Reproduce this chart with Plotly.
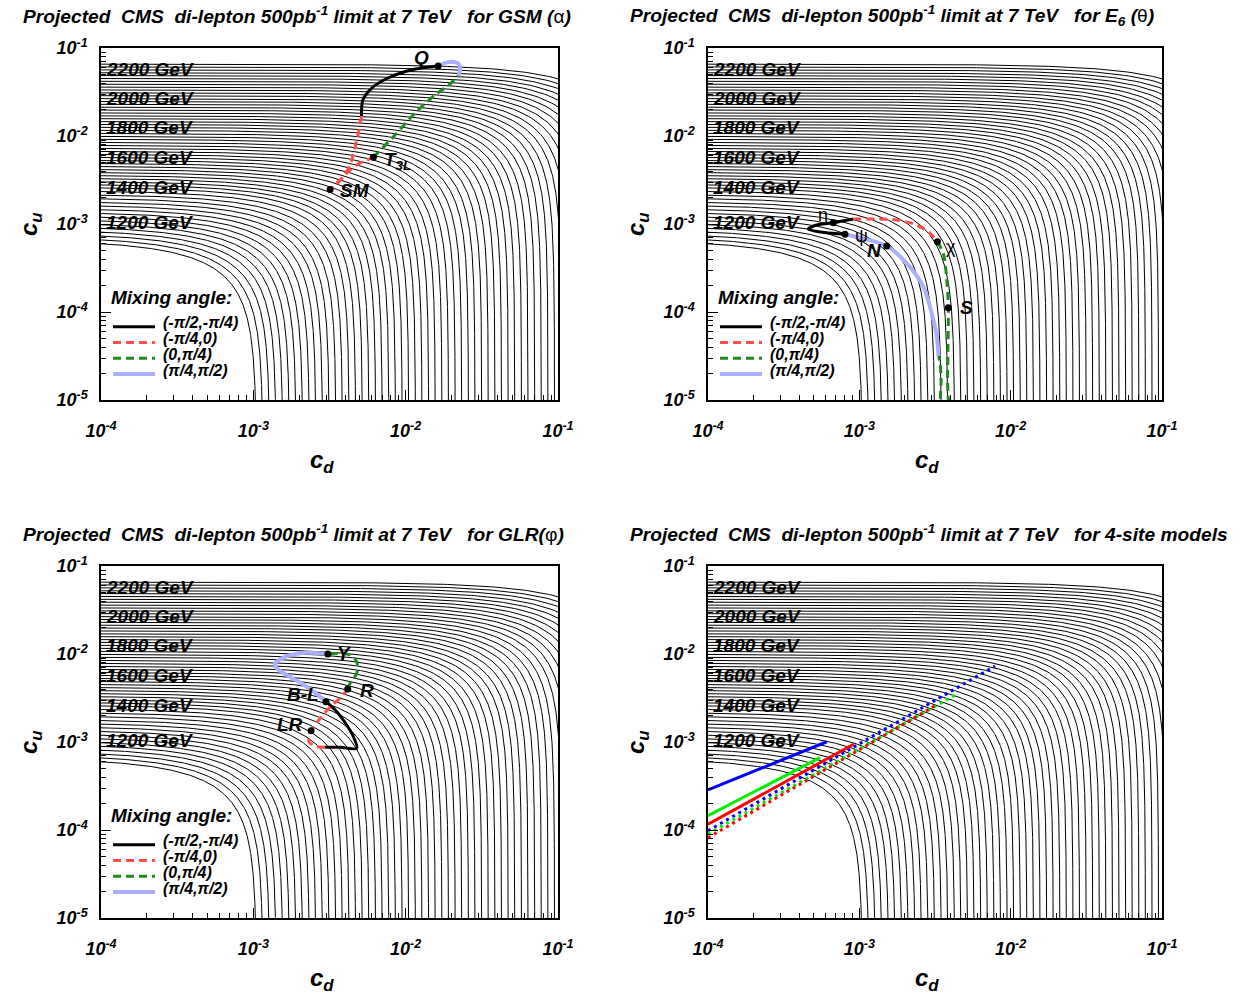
import numpy as np
import plotly.graph_objects as go

W, H = 1241, 994

# ---------------- data ----------------
# mass-limit contours (one line every 20 GeV); intercepts on the c_u axis and the c_d axis (log10)
limit_mass = list(range(1100, 2241, 20))
contour_cu_intercept_log = [
    -3.180, -3.140, -3.100, -3.060, -3.020, -2.980, -2.940, -2.900, -2.860, -2.820,
    -2.780, -2.740, -2.700, -2.660, -2.620, -2.580, -2.546, -2.512, -2.478, -2.444,
    -2.410, -2.376, -2.342, -2.308, -2.274, -2.240, -2.206, -2.172, -2.138, -2.104,
    -2.070, -2.036, -2.002, -1.968, -1.934, -1.900, -1.867, -1.835, -1.802, -1.770,
    -1.737, -1.704, -1.672, -1.639, -1.607, -1.574, -1.541, -1.509, -1.476, -1.444,
    -1.411, -1.378, -1.346, -1.313, -1.281, -1.248, -1.215, -1.183]
contour_cd_intercept_log = [
    -2.980, -2.937, -2.893, -2.850, -2.806, -2.763, -2.719, -2.676, -2.632, -2.589,
    -2.545, -2.502, -2.458, -2.415, -2.371, -2.328, -2.284, -2.241, -2.197, -2.154,
    -2.110, -2.067, -2.023, -1.980, -1.936, -1.893, -1.849, -1.806, -1.762, -1.719,
    -1.675, -1.632, -1.588, -1.545, -1.501, -1.458, -1.414, -1.371, -1.327, -1.284,
    -1.240, -1.197, -1.153, -1.110, -1.066, -1.023, -0.979, -0.936, -0.892, -0.849,
    -0.805, -0.762, -0.718, -0.675, -0.631, -0.588, -0.544, -0.501]
mass_labels = [1200, 1400, 1600, 1800, 2000, 2200]

x_tick_exp = [-4, -3, -2, -1]
y_tick_exp = [-5, -4, -3, -2, -1]

legend_labels = ["(-\u03c0/2,-\u03c0/4)", "(-\u03c0/4,0)", "(0,\u03c0/4)", "(\u03c0/4,\u03c0/2)"]

# GSM(alpha) curve, log10(c_d), log10(c_u)
gsm_black_lcd = [-1.787, -1.964, -2.120, -2.224, -2.281, -2.290]
gsm_black_lcu = [-1.205, -1.250, -1.344, -1.458, -1.591, -1.773]
gsm_red_lcd = [-2.290, -2.311, -2.337, -2.365, -2.405, -2.455, -2.496, -2.431, -2.376, -2.311, -2.245, -2.212]
gsm_red_lcu = [-1.773, -1.969, -2.159, -2.330, -2.450, -2.550, -2.608, -2.500, -2.406, -2.318, -2.265, -2.242]
gsm_green_lcd = [-2.212, -2.070, -1.938, -1.807, -1.709, -1.653]
gsm_green_lcu = [-2.242, -1.989, -1.739, -1.534, -1.409, -1.3125]
gsm_blue_lcd = [-1.653, -1.643, -1.649, -1.682, -1.728, -1.774, -1.787]
gsm_blue_lcu = [-1.3125, -1.250, -1.1875, -1.159, -1.163, -1.193, -1.205]
gsm_pt_names = ["SM", "T<sub>3L</sub>", "Q"]
gsm_pt_lcd = [-2.496, -2.212, -1.787]
gsm_pt_lcu = [-2.608, -2.242, -1.205]

# E6(theta)
e6_black_lcd = [-3.095, -3.227, -3.337, -3.293, -3.172, -3.040]
e6_black_lcu = [-3.117, -3.097, -3.060, -3.017, -2.985, -2.943]
e6_red_lcd = [-3.040, -2.885, -2.753, -2.621, -2.533, -2.484]
e6_red_lcu = [-2.943, -2.943, -2.955, -3.011, -3.106, -3.201]
e6_green_lcd = [-2.484, -2.445, -2.422, -2.412, -2.414, -2.417, -2.418, -2.460, -2.460, -2.467, -2.477]
e6_green_lcu = [-3.201, -3.333, -3.636, -3.951, -4.375, -4.773, -5.300, -5.300, -4.773, -4.568, -4.500]
e6_blue_lcd = [-2.477, -2.488, -2.522, -2.577, -2.687, -2.819, -2.962, -3.095]
e6_blue_lcu = [-4.500, -4.281, -4.015, -3.712, -3.447, -3.250, -3.170, -3.117]
e6_pt_names = ["\u03b7", "\u03c8", "N", "\u03c7", "S"]
e6_pt_lcd = [-3.172, -3.095, -2.819, -2.484, -2.412]
e6_pt_lcu = [-2.985, -3.117, -3.250, -3.201, -3.951]

# GLR(phi)
glr_black_lcd = [-2.523, -2.452, -2.387, -2.343, -2.321, -2.431, -2.529]
glr_black_lcu = [-2.542, -2.656, -2.807, -2.940, -3.072, -3.060, -3.060]
glr_red_lcd = [-2.529, -2.584, -2.634, -2.634, -2.621, -2.562, -2.496, -2.431, -2.380]
glr_red_lcu = [-3.060, -3.053, -3.000, -2.920, -2.872, -2.731, -2.602, -2.503, -2.398]
glr_green_lcd = [-2.380, -2.365, -2.321, -2.321, -2.365, -2.431, -2.511]
glr_green_lcu = [-2.398, -2.333, -2.219, -2.088, -2.011, -1.992, -2.000]
glr_blue_lcd = [-2.511, -2.649, -2.781, -2.858, -2.846, -2.759, -2.649, -2.562, -2.523]
glr_blue_lcu = [-2.000, -1.985, -2.023, -2.106, -2.163, -2.258, -2.372, -2.485, -2.542]
glr_pt_names = ["Y", "R", "B-L", "LR"]
glr_pt_lcd = [-2.511, -2.380, -2.523, -2.621]
glr_pt_lcu = [-2.000, -2.398, -2.542, -2.872]

# 4-site models: straight segments (log10 c_d, log10 c_u end points)
site_solid_lcd = {"blue": [-4.0, -3.215], "green": [-4.0, -3.260], "red": [-4.0, -3.035]}
site_solid_lcu = {"blue": [-3.545, -2.997], "green": [-3.837, -3.178], "red": [-3.935, -3.023]}
site_dot_lcd = {"blue": [-4.0, -2.103], "green": [-4.0, -2.346], "red": [-4.0, -2.500]}
site_dot_lcu = {"blue": [-4.008, -2.136], "green": [-4.045, -2.447], "red": [-4.088, -2.588]}

titles = ["for GSM (", "for E<sub>6</sub> (", "for GLR(", "for 4-site models"]
title_sym = ["\u03b1", "\u03b8", "\u03c6", ""]

# ---------------- layout helpers ----------------
FONT = "Liberation Sans"
frames_px = {1: (101, 558, 48, 400), 2: (708, 1162, 48, 400),
             3: (101, 558, 566, 918), 4: (708, 1162, 566, 918)}
seg_style = {
    "black": dict(color="black", width=3),
    "red": dict(color="#ff4d4d", width=3, dash="8px,5px"),
    "green": dict(color="#1f8a1f", width=3, dash="8px,5px"),
    "blue": dict(color="#aab0ff", width=4),
}
site_color = {"blue": "#0000ff", "green": "#00ee00", "red": "#ff0000"}


def ax_key(kind, i):
    return kind + ("" if i == 1 else str(i))


def ref(kind, i):
    return kind[0] + ("" if i == 1 else str(i))


fig = go.Figure()
annotations = []
shapes = []

# contour lines (shared by all panels)
cx, cy = [], []
for la, lb in zip(contour_cu_intercept_log, contour_cd_intercept_log):
    a, b = 10 ** la, 10 ** lb
    v1 = np.geomspace(0.8e-4 / b, 0.5, 140)
    w = np.geomspace(0.5, 0.8e-5 / a, 170)[1:]
    v = np.concatenate([v1, 1 - w])
    cx += list(b * v) + [None]
    cy += list(a * (1 - v)) + [None]

x_minor = [k * 10.0 ** e for e in range(-4, -1) for k in range(2, 10)]
y_minor = [k * 10.0 ** e for e in range(-5, -1) for k in range(2, 10)]

layout_axes = {}
for i in range(1, 5):
    x0, x1, yt, yb = frames_px[i]
    xa, ya = ref("x", i), ref("y", i)
    common = dict(type="log", showline=True, linecolor="black", linewidth=1.5, mirror=True,
                  ticks="inside", ticklen=10, tickwidth=1, tickcolor="black",
                  showgrid=False, zeroline=False, automargin=False,
                  tickfont=dict(family=FONT, size=18, color="black"))
    layout_axes[ax_key("xaxis", i)] = dict(
        common, domain=[x0 / W, x1 / W], range=[-4, -1], anchor=ya,
        tickvals=[10.0 ** e for e in x_tick_exp],
        ticktext=[f"<b><i>10<sup>{e}</sup></i></b>" for e in x_tick_exp],
        minor=dict(ticks="inside", ticklen=5, tickcolor="black", tickmode="array", tickvals=x_minor),
        ticklabelstandoff=14)
    layout_axes[ax_key("yaxis", i)] = dict(
        common, domain=[1 - yb / H, 1 - yt / H], range=[-5, -1], anchor=xa,
        tickvals=[10.0 ** e for e in y_tick_exp],
        ticktext=[f"<b><i>10<sup>{e}</sup></i></b>" for e in y_tick_exp],
        minor=dict(ticks="inside", ticklen=5, tickcolor="black", tickmode="array", tickvals=y_minor),
        ticklabelstandoff=8)

    fig.add_trace(go.Scatter(x=cx, y=cy, mode="lines", line=dict(color="black", width=1),
                             xaxis=xa, yaxis=ya, hoverinfo="skip", showlegend=False))

    # contour mass labels
    for m in mass_labels:
        k = limit_mass.index(m)
        annotations.append(dict(text=f"<b><i>{m} GeV</i></b>", xref=f"{xa} domain", yref=ya,
                                x=0, y=contour_cu_intercept_log[k], xanchor="left", yanchor="middle",
                                xshift=3, showarrow=False, font=dict(family=FONT, size=19, color="black")))

    # title
    ttl = ("<b><i>Projected\u00a0\u00a0CMS\u00a0\u00a0di-lepton 500pb<sup>-1</sup> limit at 7 TeV"
           "\u00a0\u00a0\u00a0" + titles[i - 1] + "</i></b>")
    if title_sym[i - 1]:
        ttl += title_sym[i - 1] + "<b><i>)</i></b>"
    annotations.append(dict(text=ttl, xref="paper", yref="paper",
                            x=(x0 - 80) / W, y=1 - (yt - 33) / H, xanchor="left", yanchor="middle",
                            showarrow=False, font=dict(family=FONT, size=19.2, color="black")))
    # axis titles
    annotations.append(dict(text="<b><i>c<sub>u</sub></i></b>", xref=f"{xa} domain", yref=f"{ya} domain",
                            x=0, y=0.5, xshift=-71, xanchor="center", yanchor="middle",
                            textangle=-90, showarrow=False,
                            font=dict(family=FONT, size=24, color="black")))
    annotations.append(dict(text="<b><i>c<sub>d</sub></i></b>", xref=f"{xa} domain", yref=f"{ya} domain",
                            x=0.5, y=0, yshift=-61, xshift=-8, xanchor="center", yanchor="middle",
                            showarrow=False, font=dict(family=FONT, size=24, color="black")))

    # legend (panels 1-3)
    if i <= 3:
        fw, fh = x1 - x0, yb - yt
        annotations.append(dict(text="<b><i>Mixing angle:</i></b>", xref=f"{xa} domain", yref=f"{ya} domain",
                                x=8 / fw, y=103 / fh, xanchor="left", yanchor="middle", showarrow=False,
                                font=dict(family=FONT, size=19, color="black")))
        for j, (lab, key) in enumerate(zip(legend_labels, ["black", "red", "green", "blue"])):
            ly = (73.3 - 15.8 * j) / fh
            st = seg_style[key]
            shapes.append(dict(type="line", xref=f"{xa} domain", yref=f"{ya} domain",
                               x0=12 / fw, x1=54 / fw, y0=ly, y1=ly,
                               line=dict(color=st["color"], width=st["width"], dash=st.get("dash", "solid"))))
            annotations.append(dict(text=f"<b><i>{lab}</i></b>", xref=f"{xa} domain", yref=f"{ya} domain",
                                    x=60 / fw, y=ly + 4 / fh, xanchor="left", yanchor="middle",
                                    showarrow=False, font=dict(family=FONT, size=16, color="black")))


def add_segments(i, segs):
    xa, ya = ref("x", i), ref("y", i)
    for key, lcd, lcu in segs:
        st = seg_style[key]
        fig.add_trace(go.Scatter(x=10 ** np.array(lcd), y=10 ** np.array(lcu), mode="lines",
                                 line=dict(color=st["color"], width=st["width"], dash=st.get("dash", "solid"),
                                           shape="spline", smoothing=0.8),
                                 xaxis=xa, yaxis=ya, hoverinfo="skip", showlegend=False))


def add_points(i, names, lcd, lcu, shifts, fonts):
    xa, ya = ref("x", i), ref("y", i)
    fig.add_trace(go.Scatter(x=10 ** np.array(lcd), y=10 ** np.array(lcu), mode="markers",
                             marker=dict(color="black", size=7), xaxis=xa, yaxis=ya,
                             hoverinfo="skip", showlegend=False))
    for n, x, y, (dx, dy, anc), fs in zip(names, lcd, lcu, shifts, fonts):
        txt = n if fs[1] == "plain" else f"<b><i>{n}</i></b>"
        annotations.append(dict(text=txt, xref=xa, yref=ya, x=x, y=y, xshift=dx, yshift=dy,
                                xanchor=anc, yanchor="middle", showarrow=False,
                                font=dict(family=FONT, size=fs[0], color="black")))


add_segments(1, [("black", gsm_black_lcd, gsm_black_lcu), ("red", gsm_red_lcd, gsm_red_lcu),
                 ("green", gsm_green_lcd, gsm_green_lcu), ("blue", gsm_blue_lcd, gsm_blue_lcu)])
add_points(1, gsm_pt_names, gsm_pt_lcd, gsm_pt_lcu,
           [(8, -1, "left"), (9, -4, "left"), (-17, 9, "center")],
           [(19, "b"), (19, "b"), (19, "b")])

add_segments(2, [("black", e6_black_lcd, e6_black_lcu), ("red", e6_red_lcd, e6_red_lcu),
                 ("green", e6_green_lcd, e6_green_lcu), ("blue", e6_blue_lcd, e6_blue_lcu)])
add_points(2, e6_pt_names, e6_pt_lcd, e6_pt_lcu,
           [(-10, 8, "center"), (17, -2, "center"), (-12, -4, "center"), (14, -5, "center"), (18, 0, "center")],
           [(18, "plain"), (18, "plain"), (19, "b"), (18, "plain"), (19, "b")])

add_segments(3, [("black", glr_black_lcd, glr_black_lcu), ("red", glr_red_lcd, glr_red_lcu),
                 ("green", glr_green_lcd, glr_green_lcu), ("blue", glr_blue_lcd, glr_blue_lcu)])
add_points(3, glr_pt_names, glr_pt_lcd, glr_pt_lcu,
           [(17, 1, "center"), (19, -1, "center"), (-23, 7, "center"), (-21, 6, "center")],
           [(19, "b"), (19, "b"), (19, "b"), (19, "b")])

for col in ["blue", "green", "red"]:
    fig.add_trace(go.Scatter(x=10 ** np.array(site_dot_lcd[col]), y=10 ** np.array(site_dot_lcu[col]),
                             mode="lines", line=dict(color=site_color[col], width=3, dash="3px,4px"),
                             xaxis="x4", yaxis="y4", hoverinfo="skip", showlegend=False))
for col in ["blue", "green", "red"]:
    fig.add_trace(go.Scatter(x=10 ** np.array(site_solid_lcd[col]), y=10 ** np.array(site_solid_lcu[col]),
                             mode="lines", line=dict(color=site_color[col], width=3),
                             xaxis="x4", yaxis="y4", hoverinfo="skip", showlegend=False))

fig.update_layout(template="none", width=W, height=H, margin=dict(l=0, r=0, t=0, b=0, pad=0),
                  autosize=False, paper_bgcolor="white", plot_bgcolor="white", showlegend=False,
                  annotations=annotations, shapes=shapes, **layout_axes)

fig.write_html("out.html", config={"displayModeBar": False},
               post_script="document.body.style.margin='0px';")
